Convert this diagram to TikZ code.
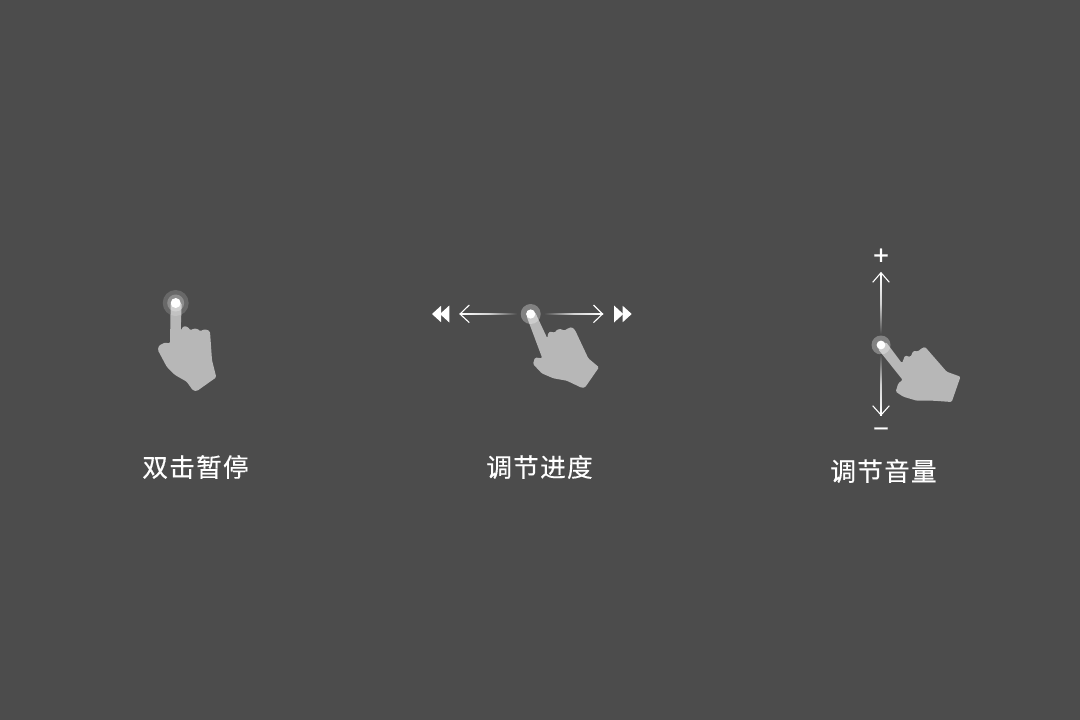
\documentclass[tikz,border=0pt]{standalone}
\usepackage{fontspec}
\newfontfamily\cjk[LetterSpace=5,FakeBold=0.35]{Noto Sans CJK SC}
\newfontfamily\signfont[FakeBold=0.3]{Liberation Sans}
\definecolor{bgc}{HTML}{4C4C4C}
\definecolor{handc}{HTML}{B7B7B7}
\tikzset{
  x=1pt,y=-1pt,
  caption/.style={text=white,inner sep=0pt,font=\cjk\fontsize{25.6}{26}\selectfont},
  signtext/.style={text=white,inner sep=0pt,font=\signfont\fontsize{27}{27}\selectfont},
  hand/.style={fill=handc,rounded corners=1.3pt},
  chevron/.style={draw=white,line width=1.1pt,line join=miter},
  tri/.style={fill=white},
}
\begin{document}
\begin{tikzpicture}
\fill[bgc] (0,0) rectangle (1080,720);
\useasboundingbox (0,0) rectangle (1080,720);
% hand 1
\fill[hand] (170.7,303) -- (170,343.5) -- (165,342.5) -- (159,345.5) -- (157.8,350) -- (166.7,366.7) -- (175,375) -- (186.7,381.7) -- (193,390.5) -- (197,391) -- (216.3,377.3) -- (212,360) -- (210,331.5) -- (206.7,329.5) -- (203,329.5) -- (200.5,331.5) -- (198,329) -- (193.5,328.5) -- (190.5,330.5) -- (188,327) -- (183.5,326) -- (180.7,330.7) -- (181.7,303) -- cycle;
\fill[white,opacity=.16] (175.7,303) circle (13);
\fill[white,opacity=.25] (175.7,303) circle (8.5);
\fill[white] (175.7,303) circle (5);
% hand 2
\fill[hand] (526.5,316) -- (542.3,358.3) -- (535,357.5) -- (533,364) -- (541.7,373.3) -- (553.3,378.3) -- (566.7,380.7) -- (581.7,387.8) -- (585,387.5) -- (599,367.3) -- (588.3,358.3) -- (575,330) -- (571.7,327) -- (566.7,329) -- (564,331) -- (561.7,329) -- (557,329.5) -- (554.5,333) -- (551.7,331.5) -- (548.3,332.5) -- (547.3,338.3) -- (535,312) -- cycle;
\fill[white,opacity=.3] (530.7,314) circle (10);
\fill[white] (530.7,314) circle (4.6);
\shade[left color=white,right color=bgc,middle color=white!75!bgc] (460,313.2) rectangle (517,314.8);
\shade[left color=bgc,right color=white,middle color=white!75!bgc] (544,313.2) rectangle (603,314.8);
\draw[chevron] (469.3,305) -- (460,314) -- (469.3,322.6);
\draw[chevron] (593.5,305) -- (602.5,314) -- (593.5,322.6);
\fill[tri] (432,314) -- (441,305.8) -- (441,322.2) -- cycle;
\fill[tri] (440,314) -- (449.3,305.5) -- (449.3,322.5) -- cycle;
\fill[tri] (614,305.5) -- (623.3,314) -- (614,322.5) -- cycle;
\fill[tri] (622.7,305.8) -- (631.7,314) -- (622.7,322.2) -- cycle;
% hand 3
\fill[hand] (878,349) -- (902.7,380) -- (898.3,383.3) -- (895.7,391.7) -- (903.3,396.7) -- (916.7,400.7) -- (933.3,400.7) -- (951.7,402) -- (960.5,376.7) -- (946.7,371.7) -- (925,346.8) -- (920.5,349) -- (918,351.5) -- (913.3,350.8) -- (910.5,357) -- (905,355.5) -- (902,363.3) -- (886,342) -- cycle;
\fill[white,opacity=.3] (881,345) circle (9.5);
\fill[white] (881,345) circle (4.4);
\shade[bottom color=bgc,top color=white,middle color=white!75!bgc] (880.2,273) rectangle (881.8,334);
\shade[top color=bgc,bottom color=white,middle color=white!75!bgc] (880.2,354) rectangle (881.8,415);
\draw[chevron] (872.7,282.3) -- (881,272.7) -- (889.3,282.3);
\draw[chevron] (872.7,405.7) -- (881,415) -- (889.3,405.7);
% labels
\node[signtext] (plus) at (881,256.5) {+};
\node[signtext] (minus) at (881,432.5) {−};
\node[caption] (c1) at (195.5,467) {双击暂停};
\node[caption] (c2) at (539.5,467) {调节进度};
\node[caption] (c3) at (883.5,471) {调节音量};
\end{tikzpicture}
\end{document}
